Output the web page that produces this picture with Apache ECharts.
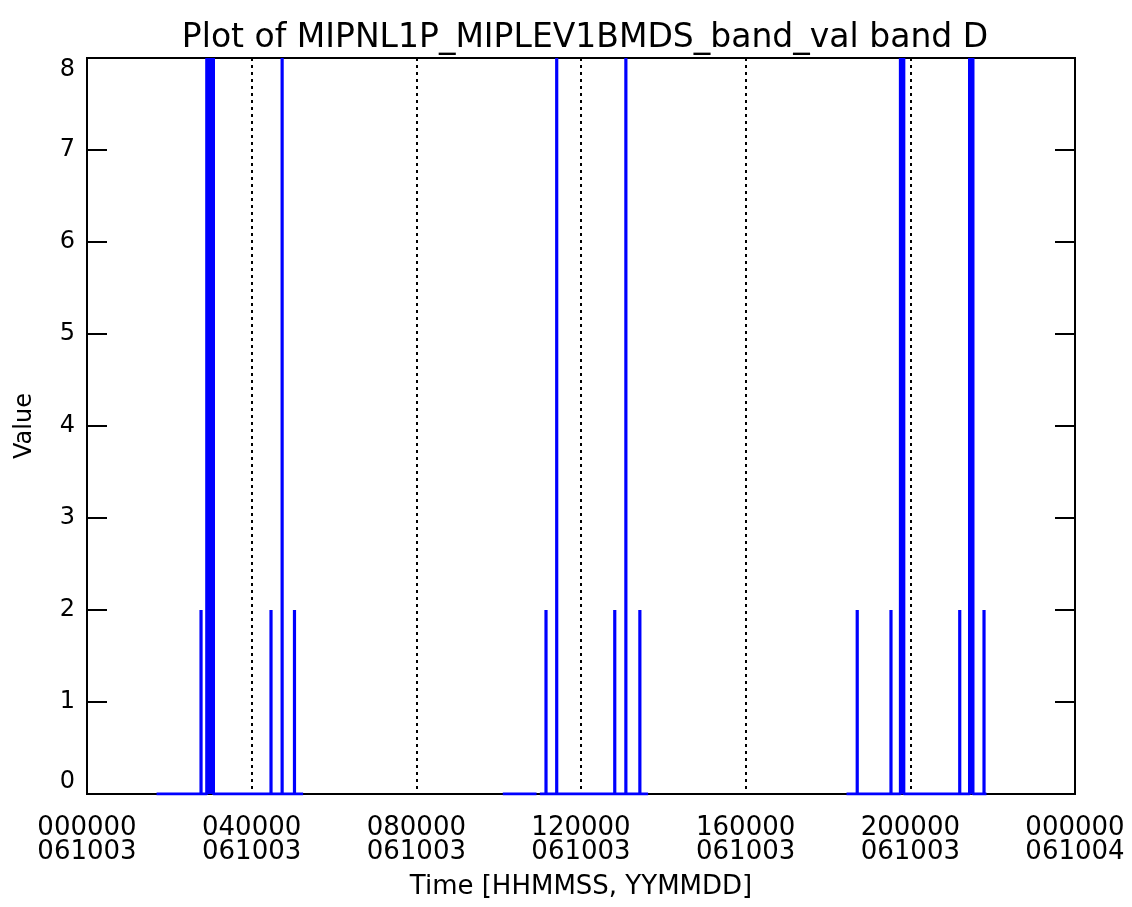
<!DOCTYPE html>
<html>
<head>
<meta charset="utf-8">
<script src="https://cdn.jsdelivr.net/npm/echarts@6/dist/echarts.min.js"></script>
<style>
html,body{margin:0;padding:0;background:#fff;}
#chart{width:1132px;height:907px;}
</style>
</head>
<body>
<div id="chart"></div>
<script>
// Data (time in hours since 000000 061003)
const segStart = [1.69, 10.10, 11.00, 18.45];
const segEnd   = [5.25, 10.92, 13.63, 21.85];
const spikeTimes  = [2.77, 2.91, 2.95, 2.99, 3.03, 3.07, 4.47, 4.74, 5.04,
                     11.15, 11.41, 12.82, 13.09, 13.43,
                     18.71, 19.53, 19.76, 19.80, 19.84, 21.20, 21.44, 21.48, 21.52, 21.79];
const spikeValues = [2, 8, 8, 8, 8, 8, 2, 8, 2,
                     2, 8, 2, 8, 2,
                     2, 2, 8, 8, 8, 2, 8, 8, 8, 2];
const yTicks = [0, 1, 2, 3, 4, 5, 6, 7, 8];
const xTickHours = [0, 4, 8, 12, 16, 20, 24];
const xTickTime  = ['000000', '040000', '080000', '120000', '160000', '200000', '000000'];
const xTickDate  = ['061003', '061003', '061003', '061003', '061003', '061003', '061004'];

const series = segStart.map((s, i) => {
  const e = segEnd[i];
  const pts = [[s, 0]];
  spikeTimes.forEach((t, k) => {
    if (t >= s && t <= e) {
      pts.push([t, 0], [t, spikeValues[k]], [t, 0]);
    }
  });
  pts.push([e, 0]);
  return {
    type: 'line', data: pts, symbol: 'none', silent: true,
    lineStyle: {color: '#0000ff', width: 3.2}, z: 3
  };
});

const FONT = 'DejaVu Sans';
const chart = echarts.init(document.getElementById('chart'), null, {renderer: 'canvas'});
chart.setOption({
  animation: false,
  backgroundColor: '#fff',
  title: {
    text: 'Plot of MIPNL1P_MIPLEV1BMDS_band_val band D',
    left: 580, top: 17, textAlign: 'center',
    textStyle: {fontFamily: FONT, fontSize: 33, fontWeight: 'normal', color: '#000'}
  },
  grid: {left: 87, right: 57, top: 58, bottom: 113, show: true, borderColor: '#000', borderWidth: 2, backgroundColor: 'transparent'},
  xAxis: {
    type: 'value', min: 0, max: 24, interval: 4,
    name: 'Time [HHMMSS, YYMMDD]', nameLocation: 'middle', nameGap: 80,
    nameTextStyle: {fontFamily: FONT, fontSize: 26, color: '#000'},
    axisLine: {show: true, lineStyle: {color: '#000', width: 2}},
    axisTick: {show: false},
    axisLabel: {
      fontFamily: FONT, fontSize: 26, color: '#000', margin: 22, lineHeight: 24,
      formatter: v => { const i = xTickHours.indexOf(v); return i < 0 ? '' : xTickTime[i] + '\n' + xTickDate[i]; }
    },
    splitLine: {show: true, showMinLine: false, showMaxLine: false,
      lineStyle: {color: '#000', width: 2, type: [3, 4]}}
  },
  yAxis: [{
    type: 'value', min: 0, max: 8, interval: 1,
    name: 'Value', nameLocation: 'middle', nameGap: 50, nameRotate: 90,
    nameTextStyle: {fontFamily: FONT, fontSize: 24, color: '#000'},
    axisLine: {show: true, lineStyle: {color: '#000', width: 2}},
    axisTick: {show: true, inside: true, length: 20, lineStyle: {color: '#000', width: 2}},
    axisLabel: {fontFamily: FONT, fontSize: 24, color: '#000', margin: 12,
      verticalAlignMinLabel: 'bottom', verticalAlignMaxLabel: 'top',
      formatter: v => yTicks.indexOf(v) < 0 ? '' : String(v)},
    splitLine: {show: false}
  }, {
    type: 'value', min: 0, max: 8, interval: 1, position: 'right',
    axisLine: {show: true, lineStyle: {color: '#000', width: 2}},
    axisTick: {show: true, inside: true, length: 20, lineStyle: {color: '#000', width: 2}},
    axisLabel: {show: false},
    splitLine: {show: false}
  }],
  series: series
});
</script>
</body>
</html>
